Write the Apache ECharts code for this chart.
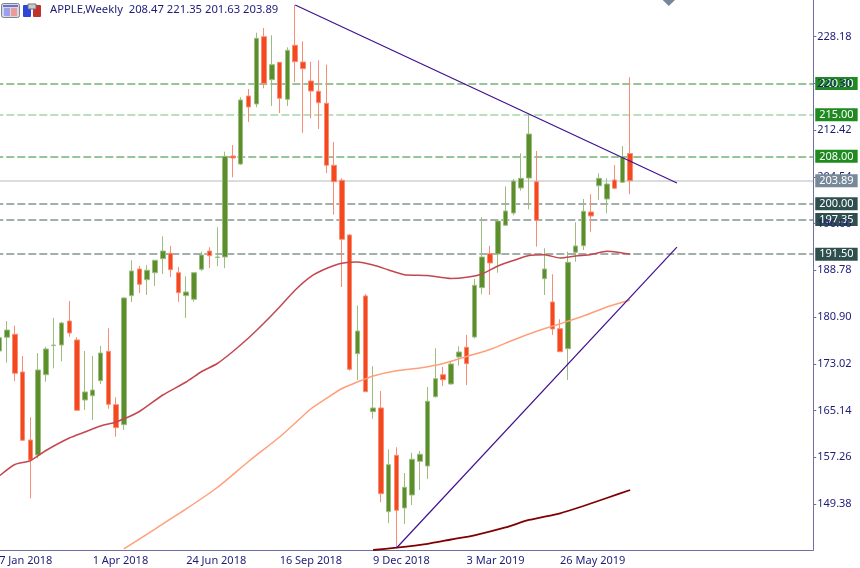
<!DOCTYPE html>
<html>
<head>
<meta charset="utf-8">
<title>APPLE, Weekly</title>
<script src="https://cdn.jsdelivr.net/npm/echarts@6/dist/echarts.min.js"></script>
<style>
  html, body { margin: 0; padding: 0; background: #fff; }
  #chart { width: 860px; height: 568px; }
</style>
</head>
<body>
<div id="chart"></div>
<script>
// weekly candles, first bar is 7 Jan 2018
const opens = [175.18,177.49,178.00,171.64,160.17,157.64,171.18,176.10,176.19,180.24,177.04,166.92,167.64,170.17,175.13,166.13,162.75,184.51,189.01,187.20,188.38,190.75,191.66,188.38,184.51,183.90,188.96,192.04,190.95,191.03,208.06,206.71,218.18,216.83,228.18,220.93,223.86,217.62,226.73,223.91,220.71,218.97,216.95,206.50,203.97,194.74,174.73,184.46,164.95,165.57,148.08,157.59,148.71,150.90,156.58,155.79,167.47,171.18,169.62,174.17,175.80,177.54,185.86,191.59,191.54,196.38,198.45,202.67,204.35,203.73,187.37,183.44,178.94,175.57,191.83,192.94,198.62,203.05,200.81,204.02,203.63,208.47];
const closes = [177.42,178.72,171.42,160.12,156.80,171.98,175.52,176.18,179.90,178.22,165.18,168.27,168.60,174.84,166.19,162.25,184.12,188.67,186.43,188.79,190.48,192.04,188.89,185.01,185.13,188.38,191.37,191.25,191.03,208.01,207.73,217.51,216.33,227.91,220.32,223.46,217.79,225.89,223.97,222.79,219.02,217.05,206.50,203.73,194.02,172.09,178.55,168.32,165.57,151.12,156.01,148.32,152.20,156.92,157.76,166.70,170.51,170.34,172.99,175.01,173.04,186.26,191.03,190.02,197.10,198.79,203.85,204.30,211.77,197.22,189.01,178.89,175.06,190.14,192.89,198.74,197.95,204.30,203.34,202.62,207.84,203.89];
const lows = [175.00,173.21,170.12,160.12,150.34,157.09,170.00,172.26,173.44,177.59,165.18,165.23,163.55,169.62,165.45,160.73,161.86,183.44,184.96,184.62,186.14,188.17,187.66,183.44,180.75,183.50,188.67,189.13,189.51,189.13,204.47,206.55,213.80,216.28,219.48,216.50,215.31,216.50,220.54,211.99,214.42,212.62,205.20,198.17,185.97,171.86,170.29,168.32,163.77,149.67,146.13,141.91,146.01,149.21,151.74,153.60,167.31,169.28,169.50,172.70,169.45,177.32,184.74,184.62,188.38,196.26,198.06,202.21,199.08,192.77,184.62,177.88,175.06,170.29,190.24,192.21,195.30,200.64,198.40,202.45,203.56,201.63];
const highs = [177.60,180.24,179.45,174.34,164.00,174.84,175.91,180.75,180.12,183.61,177.49,175.18,174.34,176.02,179.01,167.37,184.29,190.48,189.51,189.68,190.48,194.52,192.89,189.35,187.78,188.50,191.93,192.67,196.04,208.79,209.92,217.96,219.36,228.86,229.65,228.42,223.86,226.39,233.53,227.41,223.97,224.20,223.46,210.42,204.30,194.91,182.82,184.79,172.60,168.44,158.60,158.94,154.61,158.03,158.32,169.11,175.64,172.48,173.38,175.97,177.88,187.32,197.78,192.89,197.10,202.95,204.19,208.52,215.10,208.91,192.50,188.11,180.53,191.93,196.88,200.81,201.61,205.15,204.30,206.55,209.75,221.35];

// moving averages as [week index, price]
const maRed = [[0,154.10],[2,156.04],[4,156.68],[6,158.40],[9,160.51],[11,161.52],[13,162.53],[15,163.21],[18,164.98],[21,167.76],[24,169.95],[26,171.72],[28,173.07],[30,175.10],[32,177.37],[34,179.90],[36,182.60],[38,185.47],[40,187.74],[42,189.09],[44,189.97],[46,190.19],[48,189.68],[50,188.84],[52,188.05],[55,187.91],[58,187.41],[60,187.61],[62,188.16],[64,189.51],[66,190.44],[68,191.28],[70,191.42],[72,190.86],[74,191.20],[76,191.45],[78,191.99],[80,191.71],[81,191.49]];
const maOrange = [[16,141.79],[20,145.16],[24,148.54],[28,152.16],[32,156.55],[36,160.68],[38,163.04],[40,165.40],[42,167.17],[44,168.86],[46,169.95],[48,170.97],[51,171.84],[54,172.31],[57,173.07],[60,174.25],[63,175.43],[66,177.04],[69,178.50],[72,179.77],[75,181.08],[78,182.60],[81,183.78]];
const maMaroon = [[48,141.62],[51,142.01],[55,142.67],[58,143.39],[61,144.10],[65,145.42],[68,146.68],[72,147.81],[75,149.04],[78,150.39],[81,151.74]];

// trend lines
const trendDown = [[38,233.53],[87,203.51]];
const trendUp = [[51,141.96],[87,192.69]];

// horizontal levels
const greenLevels = [220.30, 208.00];
const paleLevels = [215.00];
const darkLevels = [200.00, 197.35, 191.50];
const lastPrice = 203.89;

const yTicks = [228.18,220.30,212.42,204.54,196.66,188.78,180.90,173.02,165.14,157.26,149.38];

const weekCount = 105;
const labelEvery = 12;
const lastLabelIndex = 72;
const months = ['Jan','Feb','Mar','Apr','May','Jun','Jul','Aug','Sep','Oct','Nov','Dec'];
const categories = [];
for (let i = 0; i < weekCount; i++) {
  const d = new Date(Date.UTC(2018, 0, 7 + i * 7));
  categories.push(d.getUTCDate() + ' ' + months[d.getUTCMonth()] + ' ' + d.getUTCFullYear());
}

const FONT = '"Noto Sans", sans-serif';
const NAVY = '#1c1c78';
const AXIS = '#6f6fa6';

const levelLine = (value, color, bg, width) => ({
  yAxis: value,
  lineStyle: { color: color, type: [8, 3], width: width || 1.5 },
  label: {
    show: true,
    position: 'end',
    distance: 2,
    formatter: value.toFixed(2),
    color: '#fff',
    fontFamily: FONT,
    fontSize: 11,
    lineHeight: 13,
    backgroundColor: bg,
    padding: [0, 4]
  }
});

const showTick = (index) => index % labelEvery === 0 && index <= lastLabelIndex;

const chart = echarts.init(document.getElementById('chart'));

chart.setOption({
  animation: false,
  backgroundColor: '#ffffff',
  title: {
    text: 'APPLE,Weekly  208.47 221.35 201.63 203.89',
    left: 50,
    top: 4,
    padding: 0,
    textStyle: { color: NAVY, fontFamily: FONT, fontSize: 11.25, fontWeight: 'normal' }
  },
  grid: { left: -4.7, top: 0, width: 817.95, height: 550, outerBoundsMode: 'none' },
  xAxis: {
    type: 'category',
    data: categories,
    boundaryGap: true,
    axisLine: { lineStyle: { color: AXIS } },
    axisTick: { alignWithLabel: true, length: 3, interval: showTick, lineStyle: { color: AXIS } },
    axisLabel: {
      interval: showTick,
      align: 'left',
      margin: 5,
      color: NAVY,
      fontFamily: FONT,
      fontSize: 11,
      hideOverlap: false
    },
    splitLine: { show: false }
  },
  yAxis: {
    type: 'value',
    position: 'right',
    z: 3,
    min: 141.62,
    max: 234.37,
    scale: true,
    axisLine: { show: true, lineStyle: { color: AXIS } },
    axisTick: { show: true, length: 3, customValues: yTicks, lineStyle: { color: AXIS } },
    axisLabel: {
      customValues: yTicks,
      margin: 4,
      color: NAVY,
      fontFamily: FONT,
      fontSize: 11,
      formatter: (v) => v.toFixed(2)
    },
    splitLine: { show: false }
  },
  series: [
    {
      name: 'levels',
      type: 'line',
      data: [],
      silent: true,
      markLine: {
        silent: true,
        symbol: 'none',
        z: 1,
        data: [
          ...greenLevels.map(v => levelLine(v, '#77b277', '#1f8a1f')),
          ...paleLevels.map(v => levelLine(v, '#a6d6a6', '#1f8a1f')),
          ...darkLevels.map(v => levelLine(v, '#84958f', '#2f4f4f')),
          { yAxis: lastPrice, lineStyle: { color: '#d9dde0', type: 'solid', width: 2 }, label: { show: false } }
        ]
      }
    },
    {
      name: 'lastFlag',
      type: 'line',
      data: [],
      silent: true,
      markLine: {
        silent: true,
        symbol: 'none',
        z: 6,
        data: [
          { ...levelLine(lastPrice, 'transparent', '#778899') }
        ]
      }
    },
    {
      name: 'APPLE',
      type: 'candlestick',
      z: 2,
      barWidth: 5,
      data: opens.map((o, i) => [o, closes[i], lows[i], highs[i]]),
      itemStyle: {
        color: '#5a8f2b',
        color0: '#f4481f',
        borderColor: '#9dbd80',
        borderColor0: '#f98c74',
        borderWidth: 1
      }
    },
    { name: 'maRed', type: 'line', z: 3, data: maRed, symbol: 'none', smooth: 0.2, lineStyle: { color: '#c4474f', width: 1.5 } },
    { name: 'maOrange', type: 'line', z: 3, data: maOrange, symbol: 'none', smooth: 0.2, lineStyle: { color: '#ffa07a', width: 1.5 } },
    { name: 'maMaroon', type: 'line', z: 3, data: maMaroon, symbol: 'none', smooth: 0.2, lineStyle: { color: '#800000', width: 1.8 } },
    { name: 'trendDown', type: 'line', z: 3, data: trendDown, symbol: 'none', lineStyle: { color: '#40108f', width: 1.2 } },
    { name: 'trendUp', type: 'line', z: 3, data: trendUp, symbol: 'none', lineStyle: { color: '#40108f', width: 1.2 } }
  ],
  // terminal toolbar bits in the corner, plus the small marker at the top
  graphic: [
    { type: 'rect', shape: { x: 1.5, y: 3.5, width: 18, height: 14, r: 2 }, style: { fill: '#d5d8e6', stroke: '#80848c' } },
    { type: 'rect', shape: { x: 3, y: 5, width: 15, height: 2 }, style: { fill: '#6f70c8' } },
    { type: 'rect', shape: { x: 4, y: 8, width: 6, height: 8 }, style: { fill: '#9aa0ea' } },
    { type: 'rect', shape: { x: 11, y: 8, width: 6, height: 8 }, style: { fill: '#ee9a98' } },
    { type: 'rect', shape: { x: 23, y: 5, width: 8, height: 12, r: 1 }, style: { fill: '#2f45d8' } },
    { type: 'rect', shape: { x: 33, y: 5, width: 8, height: 12, r: 1 }, style: { fill: '#c2322c' } },
    { type: 'rect', shape: { x: 28, y: 4, width: 8, height: 5 }, style: { fill: '#c8ccd0', stroke: '#707478' } },
    { type: 'polygon', shape: { points: [[662.7, 0], [675, 0], [668.8, 6]] }, style: { fill: '#76879c' } }
  ]
});
</script>
</body>
</html>
